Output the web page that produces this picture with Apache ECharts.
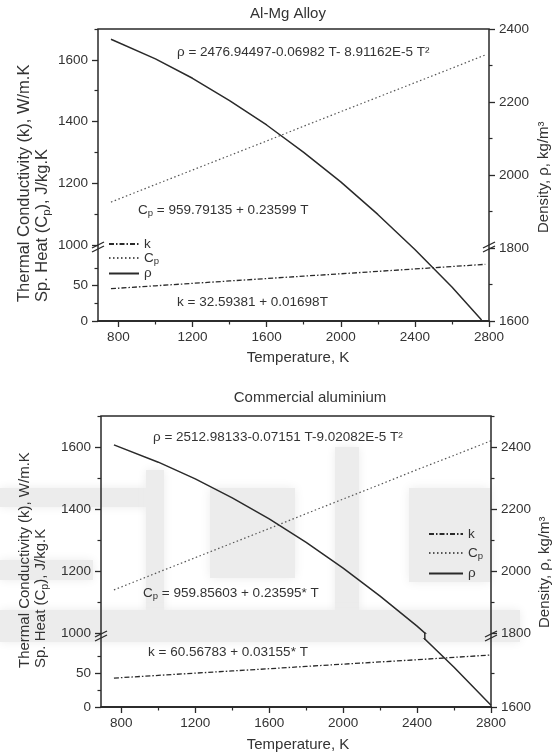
<!DOCTYPE html>
<html><head><meta charset="utf-8">
<script src="https://cdn.jsdelivr.net/npm/echarts@6/dist/echarts.min.js"></script>
<style>html,body{margin:0;padding:0;background:#fff}#c{width:557px;height:754px}</style>
</head><body><div id="c"></div>
<script>
// ---------- DATA ----------
// Panel 1: Al-Mg Alloy
const tempTop   = [760, 1000, 1200, 1400, 1600, 1800, 2000, 2200, 2400, 2600, 2780];
const kTop      = [45.5, 49.6, 53.0, 56.4, 59.8, 63.2, 66.5, 69.9, 73.3, 76.7, 79.8];
const cpTop     = [1139, 1196, 1243, 1290, 1337, 1385, 1432, 1479, 1526, 1573, 1616];
const rhoTempTop = [760, 1000, 1200, 1400, 1600, 1800, 2000, 2200, 2400, 2600, 2760];
const rhoTop    = [2372, 2318, 2265, 2204, 2137, 2062, 1981, 1892, 1796, 1693, 1603];
// Panel 2: Commercial aluminium
const tempBot   = [760, 1000, 1200, 1400, 1600, 1800, 2000, 2200, 2400, 2600, 2800];
const kBot      = [42.5, 46.5, 49.8, 53.0, 56.3, 59.7, 63.0, 66.3, 69.5, 73.0, 76.5];
const cpBot     = [1139, 1196, 1243, 1290, 1337, 1385, 1432, 1479, 1527, 1573, 1620];
const rhoBot    = [2407, 2351, 2297, 2236, 2168, 2092, 2009, 1919, 1822, 1717, 1605];
// Tick values
const xLabels          = [800, 1200, 1600, 2000, 2400, 2800];
const xMinor           = [1000, 1400, 1800, 2200, 2600];
const leftUpperLabels  = [1000, 1200, 1400, 1600];
const leftUpperMinor   = [1100, 1300, 1500, 1700];
const leftLowerLabels  = [0, 50];
const leftLowerMinor   = [25, 75];
const rhoTopLabels     = [1600, 1800, 2000, 2200, 2400];
const rhoTopMinor      = [1700, 1900, 2100, 2300];
const rhoBotUpLabels   = [1800, 2000, 2200, 2400];
const rhoBotUpMinor    = [1900, 2100, 2300, 2500];
const rhoBotLowLabels  = [1600];
const rhoBotLowMinor   = [1700];
const RHO_BREAK = 1800;

// ---------- LAYOUT ----------
const FONT = '"Liberation Sans", Arial, Helvetica, sans-serif';
const INK = '#2a2a2a';
const TXT = '#333';
const X_MIN = 690, X_MAX = 2800;

const P1 = {left: 98, width: 391, upTop: 29, upBot: 245, lowTop: 250, lowBot: 321};
const P2 = {left: 101, width: 390, upTop: 416, upBot: 633, lowTop: 639, lowBot: 707};

const zip = (xs, ys) => xs.map((x, i) => [x, ys[i]]);
const plain = v => String(v);

const grids = [], xAxes = [], yAxes = [], series = [];

function addGrid(g) { grids.push(g); return grids.length - 1; }
function hiddenX(gi) {
  xAxes.push({type: 'value', gridIndex: gi, min: X_MIN, max: X_MAX, show: false});
  return xAxes.length - 1;
}
function shownX(gi, major) {
  xAxes.push({
    type: 'value', gridIndex: gi, min: X_MIN, max: X_MAX, position: 'bottom',
    splitLine: {show: false},
    axisLine: {show: true, lineStyle: {color: INK, width: 1.5}},
    axisTick: major ? {show: true, length: 6, customValues: xLabels, lineStyle: {color: INK, width: 1.3}}
                    : {show: true, length: 3.5, customValues: xMinor, lineStyle: {color: INK, width: 1.2}},
    axisLabel: major ? {show: true, customValues: xLabels, formatter: plain, color: TXT, fontSize: 13.5, fontFamily: FONT, margin: 9}
                     : {show: false}
  });
  return xAxes.length - 1;
}
function yAx(gi, pos, min, max, labels, minor) {
  yAxes.push({
    type: 'value', gridIndex: gi, position: pos, min: min, max: max,
    splitLine: {show: false},
    axisLine: {show: false},
    axisTick: {show: true, length: 6, customValues: labels, lineStyle: {color: INK, width: 1.3}},
    axisLabel: {show: true, customValues: labels, formatter: plain, color: TXT, fontSize: 13.5, fontFamily: FONT, margin: 10}
  });
  const major = yAxes.length - 1;
  yAxes.push({
    type: 'value', gridIndex: gi, position: pos, min: min, max: max,
    splitLine: {show: false},
    axisLine: {show: false},
    axisTick: {show: true, length: 3.5, customValues: minor, lineStyle: {color: INK, width: 1.2}},
    axisLabel: {show: false}
  });
  return major;
}

const styleK   = {color: INK, width: 1.3, type: [5, 2, 1.5, 2]};
const styleCp  = {color: '#555', width: 1.2, type: [1.5, 2.5]};
const styleRho = {color: INK, width: 1.5, type: 'solid'};

function line(name, xi, yi, data, ls) {
  series.push({
    type: 'line', name: name, xAxisIndex: xi, yAxisIndex: yi, data: data,
    symbol: 'none', showSymbol: false, clip: true, smooth: false,
    lineStyle: ls, itemStyle: {color: ls.color}, emphasis: {disabled: true}, animation: false, z: 3
  });
}

// ---- Panel 1 ----
{
  const g = P1;
  const gUp = addGrid({left: g.left, width: g.width, top: g.upTop, height: g.upBot - g.upTop});
  const gLow = addGrid({left: g.left, width: g.width, top: g.lowTop, height: g.lowBot - g.lowTop});
  const gFull = addGrid({left: g.left, width: g.width, top: g.upTop, height: g.lowBot - g.upTop,
                         show: true, borderColor: INK, borderWidth: 1.5, backgroundColor: 'transparent', z: 4});
  const xUp = hiddenX(gUp), xLow = hiddenX(gLow);
  const xFull = shownX(gFull, true); shownX(gFull, false);
  const yUp = yAx(gUp, 'left', 1000, 1700, leftUpperLabels, leftUpperMinor);
  const yLow = yAx(gLow, 'left', 0, 100, leftLowerLabels, leftLowerMinor);
  const yRho = yAx(gFull, 'right', 1600, 2400, rhoTopLabels, rhoTopMinor);
  line('k', xLow, yLow, zip(tempTop, kTop), styleK);
  line('Cp', xUp, yUp, zip(tempTop, cpTop), styleCp);
  line('ρ', xFull, yRho, zip(rhoTempTop, rhoTop), styleRho);
}
// ---- Panel 2 ----
{
  const g = P2;
  const gUp = addGrid({left: g.left, width: g.width, top: g.upTop, height: g.upBot - g.upTop});
  const gLow = addGrid({left: g.left, width: g.width, top: g.lowTop, height: g.lowBot - g.lowTop});
  const gGap = addGrid({left: g.left, width: g.width, top: g.upBot, height: g.lowTop - g.upBot});
  const gFull = addGrid({left: g.left, width: g.width, top: g.upTop, height: g.lowBot - g.upTop,
                         show: true, borderColor: INK, borderWidth: 1.5, backgroundColor: 'transparent', z: 4});
  const xUp = hiddenX(gUp), xLow = hiddenX(gLow), xGap = hiddenX(gGap);
  shownX(gFull, true); shownX(gFull, false);
  yAxes.push({type: 'value', gridIndex: gFull, show: false, min: 0, max: 1});
  yAxes.push({type: 'value', gridIndex: gGap, show: false, min: RHO_BREAK - 0.1, max: RHO_BREAK + 0.1});
  const yGap = yAxes.length - 1;
  const yUp = yAx(gUp, 'left', 1000, 1700, leftUpperLabels, leftUpperMinor);
  const yLow = yAx(gLow, 'left', 0, 100, leftLowerLabels, leftLowerMinor);
  const yRhoUp = yAx(gUp, 'right', 1800, 2500, rhoBotUpLabels, rhoBotUpMinor);
  const yRhoLow = yAx(gLow, 'right', 1600, 1800, rhoBotLowLabels, rhoBotLowMinor);
  line('k ', xLow, yLow, zip(tempBot, kBot), styleK);
  line('Cp ', xUp, yUp, zip(tempBot, cpBot), styleCp);
  line('ρ ', xUp, yRhoUp, zip(tempBot, rhoBot), styleRho);
  line('ρ ', xLow, yRhoLow, zip(tempBot, rhoBot), styleRho);
  line('ρ ', xGap, yGap, zip(tempBot, rhoBot), styleRho);
}

// ---------- Text / decorations ----------
const rich = {
  m: {fontSize: 13.5, fontFamily: FONT, color: TXT},
  s: {fontSize: 9.5, fontFamily: FONT, color: TXT, padding: [7, 0, 0, 0]},
  M: {fontSize: 15, fontFamily: FONT, color: TXT},
  S: {fontSize: 10.5, fontFamily: FONT, color: TXT, padding: [8, 0, 0, 0]},
  L: {fontSize: 16.5, fontFamily: FONT, color: TXT},
  LS: {fontSize: 11.5, fontFamily: FONT, color: TXT, padding: [9, 0, 0, 0]}
};
function txt(x, y, text, opt) {
  opt = opt || {};
  return {
    type: 'text', x: x, y: y, rotation: opt.rot || 0, silent: true, z: 10,
    style: {text: text, rich: rich, fill: TXT, font: (opt.size || 13.5) + 'px ' + FONT,
            textAlign: opt.align || 'left', textVerticalAlign: 'middle'}
  };
}
function brk(x, y) {
  return [
    {type: 'line', silent: true, z: 10, shape: {x1: x - 6, y1: y + 1, x2: x + 6, y2: y - 5}, style: {stroke: INK, lineWidth: 1.3}},
    {type: 'line', silent: true, z: 10, shape: {x1: x - 6, y1: y + 5, x2: x + 6, y2: y - 1}, style: {stroke: INK, lineWidth: 1.3}}
  ];
}
// faint watermark blocks behind the lower panel
function wm(x, y, w, h) {
  return {type: 'rect', silent: true, z: -10, shape: {x: x, y: y, width: w, height: h},
          style: {fill: '#ececec', shadowBlur: 10, shadowColor: '#ececec'}};
}
const R = Math.PI / 2;
const graphics = [
  wm(0, 488, 152, 19), wm(146, 470, 18, 155), wm(210, 488, 85, 90), wm(335, 447, 24, 178),
  wm(409, 488, 81, 94), wm(0, 560, 93, 20), wm(0, 610, 520, 32),

  txt(288, 14, 'Al-Mg Alloy', {size: 15, align: 'center'}),
  txt(298, 358, 'Temperature, K', {size: 15, align: 'center'}),
  txt(24, 302, 'Thermal Conductivity (k), W/m.K', {size: 16.5, rot: R}),
  txt(42, 302, '{L|Sp. Heat (C}{LS|p}{L|), J/kg.K}', {size: 16.5, rot: R}),
  txt(544, 233, 'Density, ρ, kg/m³', {size: 15, rot: R}),
  txt(177, 52, 'ρ = 2476.94497-0.06982 T- 8.91162E-5 T²'),
  txt(138, 210, '{m|C}{s|p}{m| = 959.79135 + 0.23599 T}'),
  txt(177, 302, 'k = 32.59381 + 0.01698T'),

  txt(310, 398, 'Commercial aluminium', {size: 15, align: 'center'}),
  txt(298, 745, 'Temperature, K', {size: 15, align: 'center'}),
  txt(25, 668, 'Thermal Conductivity (k), W/m.K', {size: 15, rot: R}),
  txt(41, 668, '{M|Sp. Heat (C}{S|p}{M|), J/kg.K}', {size: 15, rot: R}),
  txt(545, 628, 'Density, ρ, kg/m³', {size: 15, rot: R}),
  txt(153, 437, 'ρ = 2512.98133-0.07151 T-9.02082E-5 T²'),
  txt(143, 593, '{m|C}{s|p}{m| = 959.85603 + 0.23595* T}'),
  txt(148, 652, 'k = 60.56783 + 0.03155* T'),
  ...brk(P1.left, 247), ...brk(P1.left + P1.width, 247),
  ...brk(P2.left, 636), ...brk(P2.left + P2.width, 636)
];

const legendFmt = n => n.trim() === 'Cp' ? '{m|C}{s|p}' : '{m|' + n.trim() + '}';

const option = {
  animation: false,
  backgroundColor: '#fff',
  textStyle: {fontFamily: FONT},
  grid: grids, xAxis: xAxes, yAxis: yAxes, series: series,
  legend: [
    {data: ['k', 'Cp', 'ρ'], orient: 'vertical', left: 103, top: 232, itemWidth: 30, itemHeight: 14, itemGap: 0,
     selectedMode: false, formatter: legendFmt, itemStyle: {opacity: 0},
     textStyle: {rich: rich, color: TXT, fontSize: 13.5}},
    {data: ['k ', 'Cp ', 'ρ '], orient: 'vertical', left: 423, top: 522, itemWidth: 34, itemHeight: 14, itemGap: 5,
     selectedMode: false, formatter: legendFmt, itemStyle: {opacity: 0},
     textStyle: {rich: rich, color: TXT, fontSize: 13.5}}
  ],
  graphic: graphics
};
const chart = echarts.init(document.getElementById('c'), null, {renderer: 'canvas'});
chart.setOption(option);
</script></body></html>
